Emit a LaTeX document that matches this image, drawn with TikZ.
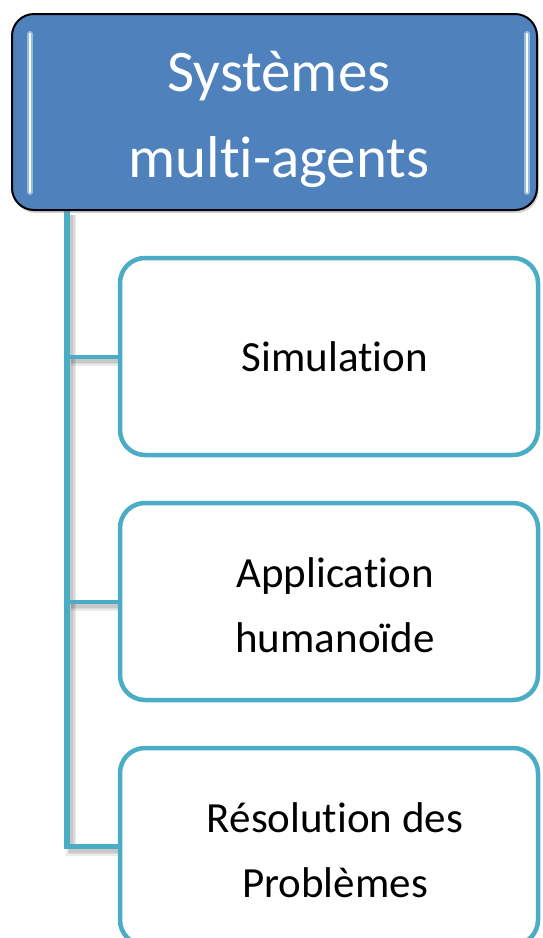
\documentclass[tikz,border=0pt]{standalone}
\usepackage{fontspec}
\setmainfont{Carlito}
\usetikzlibrary{shadows}
\definecolor{rootblue}{HTML}{4F81BD}
\definecolor{branchcol}{HTML}{4BACC6}
\definecolor{glowcol}{HTML}{C6E4F7}
\pgfdeclarelayer{background}
\pgfsetlayers{background,main}
% Carlito joins "ti" into one glyph; a zero kern keeps the letters apart
\newcommand{\tisep}{t\kern0pt i}
\tikzset{
  rootbox/.style={draw=black, line width=2pt, fill=rootblue, rounded corners=22pt,
    minimum width=525pt, minimum height=196pt,
    drop shadow={opacity=0.35, shadow xshift=1.5pt, shadow yshift=-3pt}},
  roottext/.style={text=white, align=center, font=\fontsize{59}{86}\selectfont},
  childbox/.style={draw=branchcol, line width=4.5pt, fill=white, rounded corners=25pt,
    minimum width=418pt, minimum height=197pt},
  childtext/.style={text=black, align=center, font=\fontsize{43}{65}\selectfont},
  glow/.style={line width=6pt, glowcol!60!rootblue, line cap=round},
  glowcore/.style={line width=2.5pt, white, line cap=round},
  trunkline/.style={draw=branchcol, line width=5.5pt},
  branchline/.style={draw=branchcol, line width=4pt},
  linkshadow/.style={draw=black, opacity=0.08, line width=#1},
  linkshadow/.default=6pt
}
\begin{document}
\begin{tikzpicture}[x=1pt,y=-1pt]
  \useasboundingbox (0,0) rectangle (542,938);
  \clip (0,0) rectangle (542,938);

  % root node and its title
  \node[rootbox] (root) at (274.5,112) {};
  \draw[glow] (30,34) -- (30,192);
  \draw[glowcore] (30,34) -- (30,192);
  \draw[glow] (527,34) -- (527,192);
  \draw[glowcore] (527,34) -- (527,192);
  \node[roottext] (roottitle) at (279,119) {Systèmes\\mul\tisep-agents};

  % child nodes
  \node[childbox] (c1) at (329,356.5) {};
  \node[childbox] (c2) at (329,601.5) {};
  \node[childbox] (c3) at (329,846.5) {};
  \node[childtext] (c1text) at (335,357) {Simula\tisep on};
  \node[childtext] (c2text) at (335,605) {Applica\tisep on\\humanoïde};
  \node[childtext] (c3text) at (335,850) {Résolu\tisep on des\\Problèmes};

  % trunk and branches, with a soft shadow below and to the right
  \coordinate (trunk) at (67,211);
  \begin{pgfonlayer}{background}
    \begin{scope}[transform canvas={shift={(4pt,-4pt)}}]
      \foreach \w in {10pt,7pt,4pt} {
        \draw[linkshadow=\w] (trunk) |- (c3.west);
        \draw[linkshadow=\w] (trunk |- c1.west) -- (c1.west);
        \draw[linkshadow=\w] (trunk |- c2.west) -- (c2.west);
      }
    \end{scope}
    \draw[trunkline] (trunk) |- (c3.west);
    \draw[branchline] (trunk |- c1.west) -- (c1.west);
    \draw[branchline] (trunk |- c2.west) -- (c2.west);
  \end{pgfonlayer}
\end{tikzpicture}
\end{document}
